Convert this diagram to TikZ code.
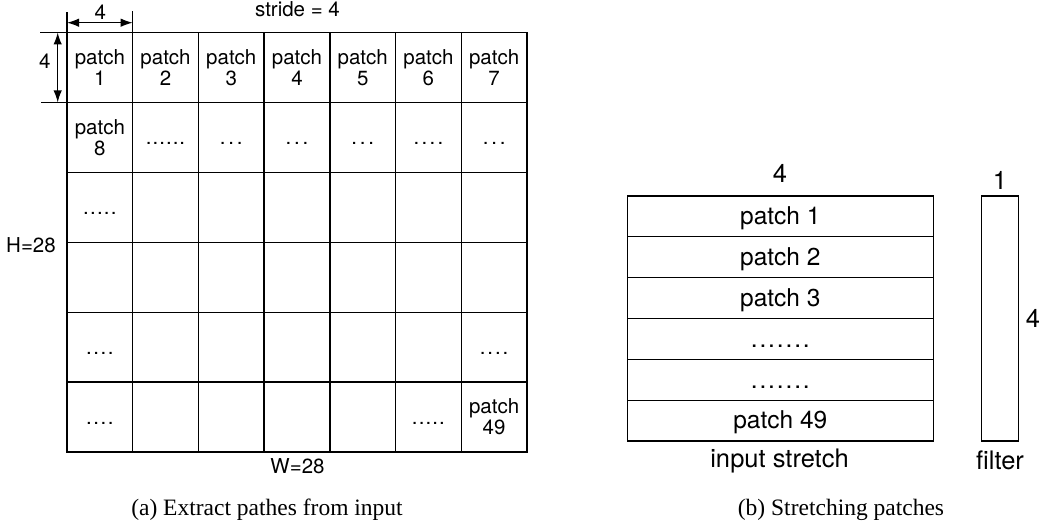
\documentclass[tikz,border=0pt]{standalone}
\usepackage{fontspec}
\setmainfont{TeX Gyre Heros}
\newfontfamily\capfont{Liberation Serif}
\usetikzlibrary{arrows.meta}
\newcount\mydotcnt
\newcommand\mydots[2]{\mydotcnt=0 \loop\ifnum\mydotcnt<#1 \makebox[#2]{.}\advance\mydotcnt by 1 \repeat}
\begin{document}
\begin{tikzpicture}[x=1pt,y=-1pt,line width=1.3pt,
  lt/.style={font=\fontsize{20.5}{21}\selectfont, inner sep=0pt},
  rt/.style={font=\fontsize{24.5}{26}\selectfont, inner sep=0pt},
  rl/.style={font=\fontsize{25.5}{27}\selectfont, inner sep=0pt},
  cellt/.style={lt, align=center},
  captext/.style={font=\capfont\fontsize{23.5}{25}\selectfont, inner sep=0pt},
  dimarrow/.style={{Latex[length=12pt,width=8.5pt]}-{Latex[length=12pt,width=8.5pt]}, line width=1.3pt},
  ]
\useasboundingbox (0,0) rectangle (1044,527);
% grid
\draw (67,32.5) rectangle (527,452);
\foreach \i in {1,...,6} \draw ({67+\i*65.714},32.5) -- ({67+\i*65.714},452);
\foreach \j in {1,...,5} \draw (67,{32.5+\j*69.917}) -- (527,{32.5+\j*69.917});
% first row
\node[cellt] (p1) at (99.86,67.46) {patch\\1};
\node[cellt] (p2) at (165.57,67.46) {patch\\2};
\node[cellt] (p3) at (231.29,67.46) {patch\\3};
\node[cellt] (p4) at (297.0,67.46) {patch\\4};
\node[cellt] (p5) at (362.71,67.46) {patch\\5};
\node[cellt] (p6) at (428.43,67.46) {patch\\6};
\node[cellt] (p7) at (494.14,67.46) {patch\\7};
% second row
\node[cellt] (p8) at (99.86,137.38) {patch\\8};
\node[lt,anchor=base] (d22) at (165.57,144.4) {\mydots{6}{6.7pt}};
\node[lt,anchor=base] (d23) at (231.29,144.4) {\mydots{3}{8.5pt}};
\node[lt,anchor=base] (d24) at (297.0,144.4) {\mydots{3}{8.5pt}};
\node[lt,anchor=base] (d25) at (362.71,144.4) {\mydots{3}{8.5pt}};
\node[lt,anchor=base] (d26) at (428.43,144.4) {\mydots{4}{8pt}};
\node[lt,anchor=base] (d27) at (494.14,144.4) {\mydots{3}{8.5pt}};
% other rows
\node[lt,anchor=base] (d31) at (99.86,214.3) {\mydots{5}{6.9pt}};
\node[lt,anchor=base] (d51) at (99.86,354.1) {\mydots{4}{7.2pt}};
\node[lt,anchor=base] (d57) at (494.14,354.1) {\mydots{4}{7.6pt}};
\node[lt,anchor=base] (d61) at (99.86,424.0) {\mydots{4}{7.2pt}};
\node[lt,anchor=base] (d66) at (428.43,424.0) {\mydots{5}{6.8pt}};
\node[cellt] (p49) at (494.14,417.04) {patch\\49};
% dimension lines
\coordinate (ta) at (67,12.5);
\coordinate (tb) at (132.7,11.5);
\coordinate (tac) at (67,32.5);
\coordinate (tbc) at (132.7,32.5);
\draw (ta) -- (tac);
\draw (tb) -- (tbc);
\coordinate (aw) at (67,22.7);
\coordinate (ae) at (132.7,22.7);
\draw[dimarrow] (aw) -- (ae);
\coordinate (la) at (40,32.5);
\coordinate (lb) at (41,102.4);
\coordinate (lac) at (67,32.5);
\coordinate (lbc) at (67,102.4);
\draw (la) -- (lac);
\draw (lb) -- (lbc);
\coordinate (an) at (57.7,32.5);
\coordinate (as) at (57.7,102.4);
\draw[dimarrow] (an) -- (as);
% labels left
\node[lt,anchor=base] (t4) at (100.2,20) {4};
\node[lt,anchor=base] (l4) at (44.7,68.3) {4};
\node[lt,anchor=base] (stride) at (297.5,17) {stride = 4};
\node[lt,anchor=base] (H) at (31,252) {H=28};
\node[lt,anchor=base] (W) at (297.5,473) {W=28};
% right box
\draw (627.3,196) rectangle (933.3,441);
\foreach \j in {1,...,5} \draw (627.3,{196+\j*40.833}) -- (933.3,{196+\j*40.833});
\node[rt,anchor=base] (r1) at (780.3,224.7) {patch 1};
\node[rt,anchor=base] (r2) at (780.3,265.5) {patch 2};
\node[rt,anchor=base] (r3) at (780.3,306.4) {patch 3};
\node[rt,anchor=base] (r4) at (780.3,347.2) {\mydots{7}{8.7pt}};
\node[rt,anchor=base] (r5) at (780.3,388.1) {\mydots{7}{8.7pt}};
\node[rt,anchor=base] (r6) at (780.3,428.9) {patch 49};
\node[rl,anchor=base] (rw) at (780,182) {4};
\node[rl,anchor=base] (is) at (779.5,467) {input stretch};
% filter
\draw (981.7,196) rectangle (1018.3,441);
\node[rl,anchor=base] (f1) at (1000,189) {1};
\node[rl,anchor=base] (f4) at (1033,327) {4};
\node[rl,anchor=base] (fl) at (1000,469) {filter};
% captions
\node[captext,anchor=base] (capa) at (267,515) {(a) Extract pathes from input};
\node[captext,anchor=base] (capb) at (841,515) {(b) Stretching patches};
\end{tikzpicture}
\end{document}
